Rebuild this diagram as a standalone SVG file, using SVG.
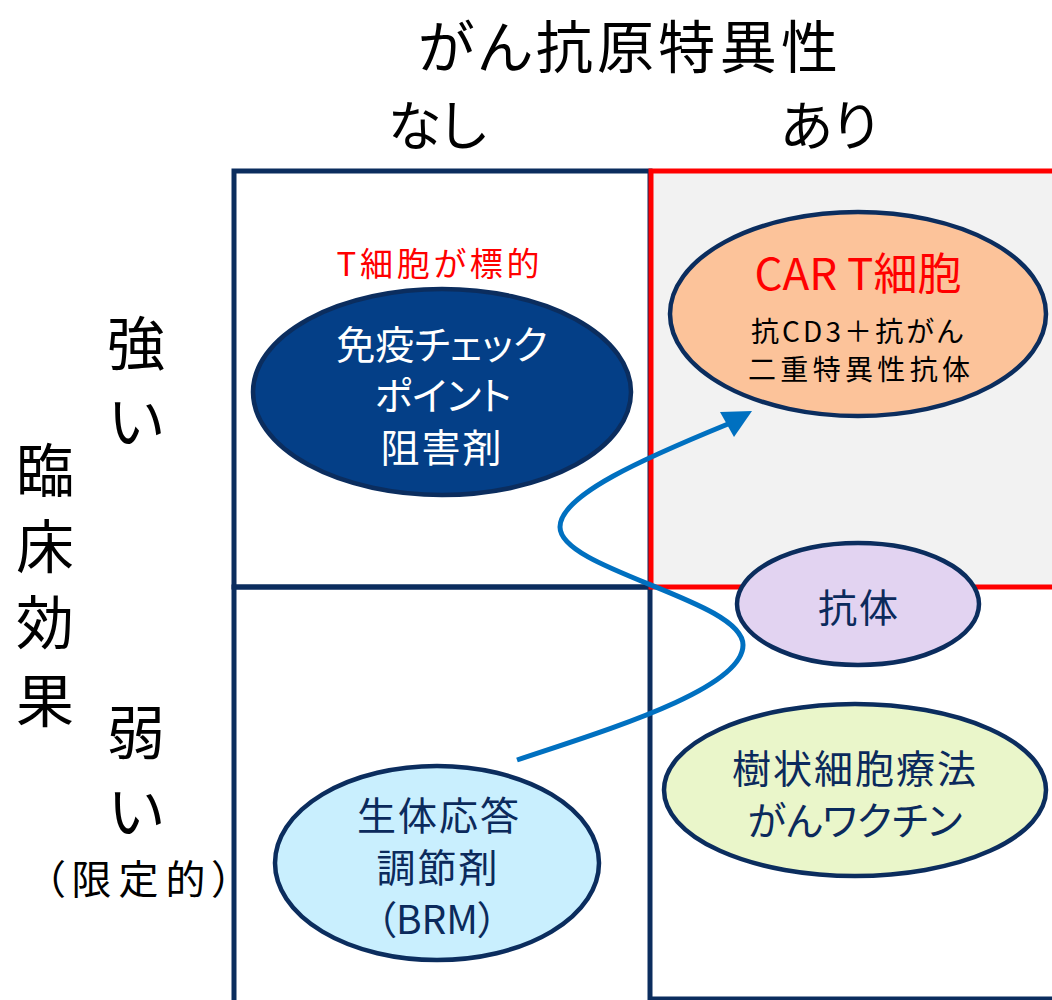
<svg xmlns="http://www.w3.org/2000/svg" width="1052" height="1000" viewBox="0 0 1052 1000">
<style>
text{font-family:"Noto Sans CJK JP","Noto Sans",sans-serif;text-anchor:middle;dominant-baseline:central;font-feature-settings:"palt" 1}
.grid{fill:none;stroke:#0B2D5E;stroke-width:5}
.node{stroke:#0B2D5E;stroke-width:4.5}
.navy{fill:#0B2A5C}
.lab{fill:#000}
.big{font-size:58px}
.nt{font-size:39px}
.ls{letter-spacing:2px}
</style>
<rect width="1052" height="1000" fill="#fff"/>
<g id="axes">
<text class="lab" x="628" y="43" font-size="57" textLength="420" lengthAdjust="spacing">がん抗原特異性</text>
<text class="lab" x="437" y="122" font-size="54">なし</text>
<text class="lab" x="829" y="122" font-size="54">あり</text>
<text class="lab big" x="45" y="467">臨</text>
<text class="lab big" x="45" y="543">床</text>
<text class="lab big" x="45" y="619">効</text>
<text class="lab big" x="45" y="697">果</text>
<text class="lab big" x="136" y="340">強</text>
<text class="lab big" x="136" y="418">い</text>
<text class="lab big" x="136" y="729">弱</text>
<text class="lab big" x="136" y="808">い</text>
<text class="lab" x="142" y="877" font-size="40" letter-spacing="7">（限定的）</text>
</g>
<g id="grid">
<rect class="grid" x="234" y="171" width="416" height="416"/>
<rect class="grid" x="234" y="587" width="416" height="416"/>
<line class="grid" x1="650" y1="999" x2="1056" y2="999"/>
<rect x="651" y="171" width="410" height="416" fill="#F2F2F2" stroke="#FF0000" stroke-width="5"/>
<text x="438" y="262" font-size="33" fill="#FF0000" textLength="203" lengthAdjust="spacing">T細胞が標的</text>
</g>
<g id="connectors">
<path d="M517,760 C600,732 743,690 743,645 C743,600 560,570 560,527 C560,495 645,458 728,424" fill="none" stroke="#0070C0" stroke-width="5"/>
<polygon points="752,411 720,412 734,437" fill="#0070C0"/>
</g>
<g id="node-icpi">
<ellipse class="node" cx="442" cy="392" rx="189" ry="103" fill="#043F87"/>
<text class="nt" x="442" y="342" fill="#fff">免疫チェック</text>
<text class="nt" x="443" y="393" fill="#fff">ポイント</text>
<text class="nt ls" x="442" y="445" fill="#fff">阻害剤</text>
</g>
<g id="node-cart">
<ellipse class="node" cx="858" cy="314" rx="188" ry="102" fill="#FCC39A"/>
<text x="858" y="271" font-size="44" fill="#FF0000">CAR T細胞</text>
<text x="857" y="330" font-size="28" fill="#000" textLength="212" lengthAdjust="spacing">抗CD3＋抗がん</text>
<text x="859" y="368" font-size="28" fill="#000" textLength="222" lengthAdjust="spacing">二重特異性抗体</text>
</g>
<g id="node-antibody">
<ellipse class="node" cx="858" cy="604" rx="121" ry="61" fill="#E2D3F1"/>
<text class="navy nt ls" x="859" y="605">抗体</text>
</g>
<g id="node-dc">
<ellipse class="node" cx="855" cy="790" rx="191" ry="86" fill="#EAF6CA"/>
<text class="navy nt ls" x="855" y="766">樹状細胞療法</text>
<text class="navy nt" x="855" y="818">がんワクチン</text>
</g>
<g id="node-brm">
<ellipse class="node" cx="437" cy="863" rx="162" ry="97" fill="#C9EFFE"/>
<text class="navy nt ls" x="439" y="813">生体応答</text>
<text class="navy nt ls" x="438" y="865">調節剤</text>
<text class="navy nt" x="437" y="917">（BRM）</text>
</g>
</svg>
